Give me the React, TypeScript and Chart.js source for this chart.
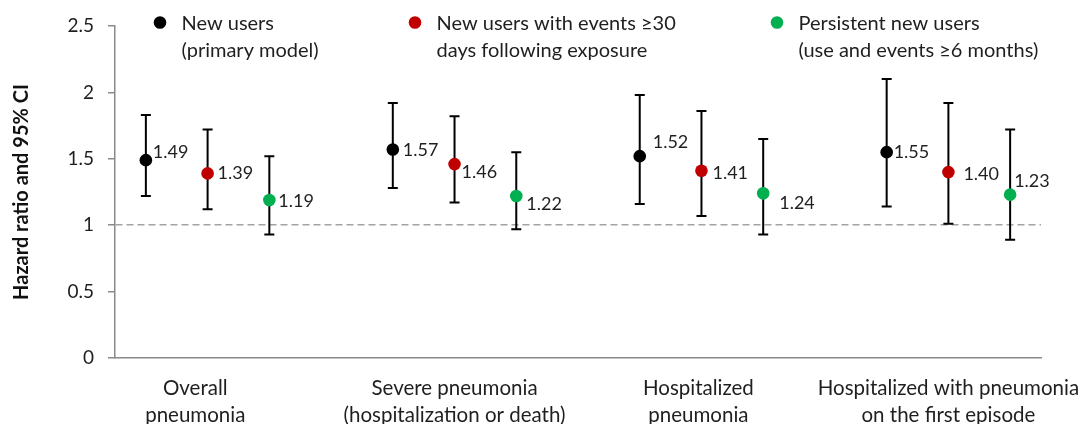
import React, { useEffect, useRef } from "react";
import { Chart, registerables } from "chart.js";

Chart.register(...registerables);

// ---------- data ----------
const categoryLabels: string[][] = [
  ["Overall", "pneumonia"],
  ["Severe pneumonia", "(hospitalization or death)"],
  ["Hospitalized", "pneumonia"],
  ["Hospitalized with pneumonia", "on the first episode"],
];
const seriesNames: string[][] = [
  ["New users", "(primary model)"],
  ["New users with events \u226530", "days following exposure"],
  ["Persistent new users", "(use and events \u22656 months)"],
];
const newUsersHR = [1.49, 1.57, 1.52, 1.55];
const newUsersLow = [1.22, 1.28, 1.16, 1.14];
const newUsersHigh = [1.83, 1.92, 1.98, 2.1];
const events30HR = [1.39, 1.46, 1.41, 1.4];
const events30Low = [1.12, 1.17, 1.07, 1.01];
const events30High = [1.72, 1.82, 1.86, 1.92];
const persistentHR = [1.19, 1.22, 1.24, 1.23];
const persistentLow = [0.93, 0.97, 0.93, 0.89];
const persistentHigh = [1.52, 1.55, 1.65, 1.72];
const yTickStep = 0.5;
const yMin = 0;
const yMax = 2.5;
const referenceHR = 1;

// ---------- styles / layout ----------
const seriesColors = ["#000000", "#c00000", "#00b050"];
const axisGray = "#8a8a8a";
const textColor = "#1f1f1f";
const FONT = "Lato, 'Open Sans', sans-serif";
const labelAnchors = [1.8, 6, 9.95, 14]; // x-axis label anchor values
const legendDotX = [160, 415, 777];
// value label offsets (dx, dy) relative to point, per series / per group
const labelOffsets = [
  [[7, -8], [10, 1], [13, -14], [7, 0]],
  [[10, 0], [7, 8], [11, 2], [15, 2]],
  [[9, 1], [10, 8], [16, 10], [4, -13]],
];

const hrSeries = [newUsersHR, events30HR, persistentHR];
const lowSeries = [newUsersLow, events30Low, persistentLow];
const highSeries = [newUsersHigh, events30High, persistentHigh];

const errorBarsPlugin = {
  id: "errorBars",
  beforeDatasetsDraw(chart: any) {
    const { ctx } = chart;
    const yScale = chart.scales.y;
    chart.data.datasets.forEach((ds: any, i: number) => {
      const meta = chart.getDatasetMeta(i);
      meta.data.forEach((pt: any, j: number) => {
        const yl = yScale.getPixelForValue(ds.errLow[j]);
        const yh = yScale.getPixelForValue(ds.errHigh[j]);
        const x = pt.x;
        ctx.save();
        ctx.strokeStyle = "#000";
        ctx.lineWidth = 2;
        ctx.beginPath();
        ctx.moveTo(x, yl);
        ctx.lineTo(x, yh);
        ctx.moveTo(x - 5, yl);
        ctx.lineTo(x + 5, yl);
        ctx.moveTo(x - 5, yh);
        ctx.lineTo(x + 5, yh);
        ctx.stroke();
        ctx.restore();
      });
    });
  },
};

const valueLabelsPlugin = {
  id: "valueLabels",
  afterDatasetsDraw(chart: any) {
    const { ctx } = chart;
    ctx.save();
    ctx.font = `18px ${FONT}`;
    ctx.fillStyle = textColor;
    ctx.textAlign = "left";
    ctx.textBaseline = "middle";
    chart.data.datasets.forEach((ds: any, i: number) => {
      const meta = chart.getDatasetMeta(i);
      meta.data.forEach((pt: any, j: number) => {
        const [dx, dy] = labelOffsets[i][j];
        ctx.fillText(ds.data[j].y.toFixed(2), pt.x + dx, pt.y + dy);
      });
    });
    ctx.restore();
  },
};

const customLegendPlugin = {
  id: "customLegend",
  afterDraw(chart: any) {
    const { ctx } = chart;
    ctx.save();
    ctx.font = `20px ${FONT}`;
    ctx.textAlign = "left";
    ctx.textBaseline = "alphabetic";
    seriesNames.forEach((lines, i) => {
      const cx = legendDotX[i];
      ctx.fillStyle = seriesColors[i];
      ctx.beginPath();
      ctx.arc(cx, 22.5, 6.3, 0, Math.PI * 2);
      ctx.fill();
      ctx.fillStyle = textColor;
      lines.forEach((t, k) => ctx.fillText(t, cx + 21.5, 29.5 + k * 27.4));
    });
    ctx.restore();
  },
};

export default function App() {
  const ref = useRef<HTMLCanvasElement | null>(null);
  useEffect(() => {
    if (!ref.current) return;
    Chart.defaults.font.family = FONT;
    const datasets = hrSeries.map((vals, s) => ({
      label: seriesNames[s].join(" "),
      data: vals.map((v, g) => ({ x: g * 4 + s + 1, y: v })),
      errLow: lowSeries[s],
      errHigh: highSeries[s],
      showLine: false,
      pointRadius: 6.3,
      pointHoverRadius: 6.3,
      pointBorderWidth: 0,
      pointBackgroundColor: seriesColors[s],
      borderColor: seriesColors[s],
      backgroundColor: seriesColors[s],
    }));
    const chart = new Chart(ref.current, {
      type: "line",
      data: { datasets } as any,
      options: {
        animation: false,
        responsive: false,
        maintainAspectRatio: false,
        layout: { padding: { left: 0, right: 43, top: 26, bottom: 0 } },
        plugins: { legend: { display: false }, tooltip: { enabled: false } },
        scales: {
          x: {
            type: "linear",
            min: 0.5,
            max: 15.5,
            grid: { display: false, drawTicks: false },
            border: { display: true, color: axisGray, width: 1.5 },
            ticks: {
              autoSkip: false,
              maxRotation: 0,
              padding: 17,
              color: textColor,
              font: { size: 20.5, lineHeight: 1.32 },
              callback: (_v: any, i: number) => categoryLabels[i],
            },
            afterBuildTicks: (s: any) => {
              s.ticks = labelAnchors.map((v) => ({ value: v }));
            },
            afterFit: (s: any) => {
              s.height = 82;
              s.paddingLeft = 0;
              s.paddingRight = 0;
            },
          },
          y: {
            min: yMin,
            max: yMax,
            ticks: {
              stepSize: yTickStep,
              padding: 14,
              color: textColor,
              font: { size: 19 },
              callback: (v: any) => String(v),
            },
            grid: {
              color: (c: any) => (c.tick && c.tick.value === referenceHR ? "#a3a3a3" : "rgba(0,0,0,0)"),
              lineWidth: 1.5,
              tickColor: axisGray,
              tickLength: 7,
              tickWidth: 1.5,
            },
            border: { display: true, color: axisGray, width: 1.5, dash: [7, 4] },
            title: {
              display: true,
              text: "Hazard ratio and 95% CI",
              color: "#111",
              font: { size: 20, weight: "bold", lineHeight: 1.2 },
              padding: { top: 10, bottom: 0 },
            },
            afterFit: (s: any) => {
              s.width = 115;
              s.paddingTop = 0;
              s.paddingBottom = 0;
            },
          },
        },
      } as any,
      plugins: [errorBarsPlugin, valueLabelsPlugin, customLegendPlugin],
    });
    return () => chart.destroy();
  }, []);
  return (
    <div
      style={{
        position: "fixed",
        left: 0,
        top: 0,
        width: 1084,
        height: 424,
        overflow: "hidden",
        background: "#fff",
      }}
    >
      <canvas ref={ref} width={1084} height={440} style={{ display: "block" }} />
    </div>
  );
}
